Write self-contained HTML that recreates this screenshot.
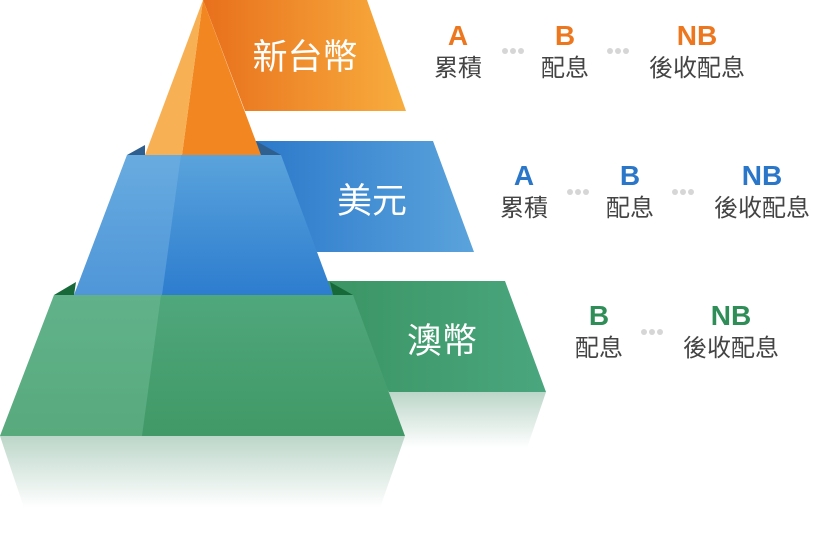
<!DOCTYPE html>
<html><head><meta charset="utf-8"><style>
html,body{margin:0;padding:0;background:#fff;width:816px;height:537px;overflow:hidden}
svg{display:block}
.l{font-family:"Liberation Sans","Noto Sans CJK TC",sans-serif}
</style></head><body>
<svg width="816" height="537" viewBox="0 0 816 537" xmlns="http://www.w3.org/2000/svg">
<defs>
<linearGradient id="ob" x1="0" x2="1" y1="0" y2="0"><stop offset="0" stop-color="#e8701c"/><stop offset="1" stop-color="#f8ad3e"/></linearGradient>
<linearGradient id="bb" x1="0" x2="1"><stop offset="0" stop-color="#2b78ca"/><stop offset="1" stop-color="#5aa3dc"/></linearGradient>
<linearGradient id="gb" x1="0" x2="1"><stop offset="0" stop-color="#3a9463"/><stop offset="1" stop-color="#4aa67e"/></linearGradient>
<linearGradient id="bp" x1="0" x2="0" y1="0" y2="1"><stop offset="0" stop-color="#5aa3dc"/><stop offset="1" stop-color="#2d7dcf"/></linearGradient>
<linearGradient id="gp" x1="0" x2="0" y1="0" y2="1"><stop offset="0" stop-color="#4fa77c"/><stop offset="1" stop-color="#409966"/></linearGradient>
<linearGradient id="rf" x1="0" x2="0" y1="0" y2="1"><stop offset="0" stop-color="#bcd6c9"/><stop offset="1" stop-color="#ffffff"/></linearGradient>
</defs>
<polygon points="389,392 546,392 527,448 395,448" fill="url(#rf)"/>
<polygon points="0,436 405,436 380,508 24,508" fill="url(#rf)"/>
<polygon points="203,0 367,0 406,111 245,111" fill="url(#ob)"/>
<polygon points="250,141 433,141 474,252 317,252" fill="url(#bb)"/>
<polygon points="320,281 505,281 546,392 389,392" fill="url(#gb)"/>
<polygon points="203,0 261,155 182,155" fill="#f28620"/>
<polygon points="203,0 182,155 145,155" fill="#f8b055"/>
<polygon points="127,155 145,145 145,155" fill="#2f5f8e"/>
<polygon points="256,141 281,155 261,155" fill="#2f5f8e"/>
<polygon points="127,155 281,155 333,295 74,295" fill="url(#bp)"/>
<polygon points="127,155 181,155 162,295 74,295" fill="#7ab6e4" opacity="0.45"/>
<polygon points="54,295 76,282 74,295" fill="#17693a"/>
<polygon points="330,282 353,295 333,295" fill="#17693a"/>
<polygon points="54,295 353,295 405,436 0,436" fill="url(#gp)"/>
<polygon points="54,295 161,295 142,436 0,436" fill="#7cc4a0" opacity="0.4"/>
<g class="l" fill="#fff" font-size="35" text-anchor="middle">
<text x="305" y="69">新台幣</text>
<text x="372" y="213">美元</text>
<text x="442" y="353">澳幣</text>
</g>
<g class="l" text-anchor="middle">
<g font-weight="bold" font-size="28" fill="#ec771f">
<text x="458" y="45">A</text><text x="565" y="45">B</text><text x="697" y="45">NB</text></g>
<g font-size="24" fill="#444"><text x="458" y="76">累積</text><text x="565" y="76">配息</text><text x="697" y="76">後收配息</text></g>
<g font-weight="bold" font-size="28" fill="#2a76c9">
<text x="524" y="185">A</text><text x="630" y="185">B</text><text x="762" y="185">NB</text></g>
<g font-size="24" fill="#444"><text x="524" y="216">累積</text><text x="630" y="216">配息</text><text x="762" y="216">後收配息</text></g>
<g font-weight="bold" font-size="28" fill="#2f8d58">
<text x="599" y="325">B</text><text x="731" y="325">NB</text></g>
<g font-size="24" fill="#444"><text x="599" y="356">配息</text><text x="731" y="356">後收配息</text></g>
</g>
<g fill="#d6d6d6">
<circle cx="505" cy="51" r="3"/><circle cx="513" cy="51" r="3"/><circle cx="521" cy="51" r="3"/>
<circle cx="610" cy="51" r="3"/><circle cx="618" cy="51" r="3"/><circle cx="626" cy="51" r="3"/>
<circle cx="570" cy="192" r="3"/><circle cx="578" cy="192" r="3"/><circle cx="586" cy="192" r="3"/>
<circle cx="675" cy="192" r="3"/><circle cx="683" cy="192" r="3"/><circle cx="691" cy="192" r="3"/>
<circle cx="644" cy="332" r="3"/><circle cx="652" cy="332" r="3"/><circle cx="660" cy="332" r="3"/>
</g>
</svg>
</body></html>
